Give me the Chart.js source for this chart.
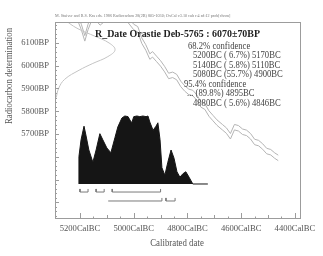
<!DOCTYPE html>
<html>
<head>
<meta charset="utf-8">
<script src="https://cdn.jsdelivr.net/npm/chart.js@4.4.1/dist/chart.umd.min.js"></script>
<style>
  html, body { margin: 0; padding: 0; background: #fff; }
  #chart { display: block; }
</style>
</head>
<body>
<canvas id="chart" width="323" height="256"></canvas>
<script>
// Calibration curve: cal BC year -> radiocarbon age (BP), centre of the band
const curveYears = [5240, 5210, 5195, 5182, 5170, 5155, 5140, 5125, 5110, 5095, 5070, 5040, 5020, 5000, 4985, 4970,
  4955, 4940, 4930, 4915, 4900, 4885, 4870, 4855, 4840, 4825, 4810, 4795, 4780, 4765, 4750, 4735, 4720, 4705,
  4690, 4670, 4655, 4640, 4625, 4610, 4595, 4580, 4565, 4550, 4535, 4520, 4505, 4490, 4475, 4462];
const curveBP = [6260, 6215, 6170, 6120, 6170, 6215, 6210, 6190, 6205, 6240, 6250, 6220, 6200, 6170, 6160, 6110,
  6080, 6040, 6050, 6030, 6010, 5985, 5955, 5960, 5950, 5920, 5900, 5885, 5880, 5860, 5830, 5820, 5790, 5770,
  5750, 5730, 5715, 5690, 5730, 5725, 5710, 5705, 5690, 5665, 5660, 5645, 5625, 5620, 5605, 5595];
const curveErr = 12;

// Measurement 6070±70 BP, relative density along the BP axis
const gaussBP = [5860, 5900, 5940, 5980, 6010, 6040, 6070, 6100, 6130, 6160, 6190, 6220];
const gaussDensity = [0.02, 0.06, 0.16, 0.40, 0.63, 0.88, 1.0, 0.90, 0.66, 0.40, 0.22, 0.10];

// Calibrated probability (cal BC year, relative probability)
const probYears = [5204, 5204, 5196, 5185, 5178, 5167, 5152, 5140, 5126, 5115, 5100, 5085, 5070, 5059, 5044, 5033,
  5021, 5014, 5007, 5000, 4988, 4977, 4966, 4954, 4947, 4940, 4928, 4917, 4910, 4902, 4895, 4884, 4873, 4861,
  4850, 4839, 4828, 4817, 4806, 4794, 4780, 4724];
const probValues = [0, 0.40, 0.65, 0.85, 0.72, 0.50, 0.32, 0.50, 0.74, 0.65, 0.53, 0.46, 0.68, 0.84, 0.97, 1.00,
  0.99, 0.94, 0.90, 0.99, 1.00, 0.99, 1.00, 0.99, 1.00, 0.91, 0.79, 0.85, 0.90, 0.65, 0.24, 0.13, 0.32, 0.50,
  0.38, 0.18, 0.10, 0.15, 0.18, 0.10, 0, 0];

// Highest probability ranges
const sigma1From = [5200, 5140, 5080];
const sigma1To = [5170, 5110, 4900];
const sigma2From = [5095, 4880];
const sigma2To = [4895, 4846];

const xTicks = [5200, 5000, 4800, 4600, 4400];
const yTicks = [5700, 5800, 5900, 6000, 6100];

const header = 'M. Stuiver and R.S. Kra eds. 1986 Radiocarbon 28(2B) 805-1030; OxCal v3.10 cub r:4 sd:12 prob[chron]';
const title = 'R_Date Orastie Deb-5765 : 6070\u00b170BP';
const confidenceLines = [
  '68.2% confidence',
  '5200BC ( 6.7%) 5170BC',
  '5140BC ( 5.8%) 5110BC',
  '5080BC (55.7%) 4900BC',
  '95.4% confidence',
  '... (89.8%) 4895BC',
  '4880BC ( 5.6%) 4846BC'
];

const SERIF = "'Liberation Serif', 'DejaVu Serif', serif";

// bracket shape for a range bar: small upturned ends
function bracket(from, to, level, leftEnd) {
  const pts = [];
  if (leftEnd) pts.push({ x: from, y: level + 0.045 });
  pts.push({ x: from, y: level }, { x: to, y: level }, { x: to, y: level + 0.045 });
  return {
    data: pts, xAxisID: 'x', yAxisID: 'p', borderColor: '#7a7a7a', borderWidth: 1,
    pointRadius: 0, fill: false, tension: 0
  };
}

const datasets = [
  {
    data: gaussBP.map((b, i) => ({ x: gaussDensity[i], y: b })),
    xAxisID: 'g', yAxisID: 'y', borderColor: '#c4c4c4', borderWidth: 1,
    pointRadius: 0, fill: false, tension: 0.4
  },
  {
    data: curveYears.map((yr, i) => ({ x: yr, y: curveBP[i] + curveErr })),
    xAxisID: 'x', yAxisID: 'y', borderColor: '#b4b4b4', borderWidth: 1,
    pointRadius: 0, fill: false, tension: 0
  },
  {
    data: curveYears.map((yr, i) => ({ x: yr, y: curveBP[i] - curveErr })),
    xAxisID: 'x', yAxisID: 'y', borderColor: '#b4b4b4', borderWidth: 1,
    pointRadius: 0, fill: false, tension: 0
  },
  {
    data: probYears.map((yr, i) => ({ x: yr, y: probValues[i] })),
    xAxisID: 'x', yAxisID: 'p', borderColor: '#151515', backgroundColor: '#151515', borderWidth: 1,
    pointRadius: 0, fill: 'origin', tension: 0
  }
];
sigma1From.forEach((f, i) => datasets.push(bracket(f, sigma1To[i], -0.118, true)));
sigma2From.forEach((f, i) => datasets.push(bracket(f, sigma2To[i], -0.25, i > 0)));

function drawText(ctx, str, x, y, font, color, align, sx) {
  ctx.save();
  ctx.font = font;
  ctx.fillStyle = color;
  ctx.textAlign = align;
  ctx.textBaseline = 'alphabetic';
  ctx.translate(x, y);
  ctx.scale(sx, 1);
  ctx.fillText(str, 0, 0);
  ctx.restore();
}

const decorations = {
  id: 'decorations',
  afterDraw(chart) {
    const { ctx, chartArea: a } = chart;
    const xs = chart.scales.x, ys = chart.scales.y;
    ctx.save();
    ctx.strokeStyle = '#9c9c9c';
    ctx.lineWidth = 1;
    ctx.strokeRect(Math.round(a.left) + 0.5, Math.round(a.top) + 0.5,
      Math.round(a.right - a.left), Math.round(a.bottom - a.top));

    // inward ticks
    ctx.beginPath();
    for (let v = 4400; v <= 5200; v += 50) {
      const px = Math.round(xs.getPixelForValue(v)) + 0.5;
      const len = v % 200 === 0 ? 5 : (v % 100 === 0 ? 3 : 1.5);
      ctx.moveTo(px, a.bottom);
      ctx.lineTo(px, a.bottom - len);
    }
    for (let v = 5340; v <= 6180; v += 20) {
      const py = Math.round(ys.getPixelForValue(v)) + 0.5;
      const len = v % 100 === 0 ? 4 : 2;
      ctx.moveTo(a.left, py);
      ctx.lineTo(a.left + len, py);
    }
    ctx.stroke();
    ctx.restore();

    drawText(ctx, header, 55, 17, '4.6px ' + SERIF, '#777', 'left', 0.9);
    drawText(ctx, title, 95, 37, 'bold 11.3px ' + SERIF, '#222', 'left', 0.88);
    const lineX = [188, 193, 193, 193, 184, 187, 193];
    confidenceLines.forEach((s, i) => {
      drawText(ctx, s, lineX[i], 48.5 + i * 9.5, '9.8px ' + SERIF, '#444', 'left', 0.88);
    });
    drawText(ctx, 'Calibrated date', 177, 246, '9.8px ' + SERIF, '#555', 'center', 0.9);
    ctx.save();
    ctx.translate(12, 76);
    ctx.rotate(-Math.PI / 2);
    drawText(ctx, 'Radiocarbon determination', 0, 0, '9.8px ' + SERIF, '#555', 'center', 0.9);
    ctx.restore();
  }
};

new Chart(document.getElementById('chart'), {
  type: 'line',
  data: { datasets },
  options: {
    responsive: false,
    animation: false,
    devicePixelRatio: 1,
    layout: { padding: { top: 22, right: 23, left: 0, bottom: 0 } },
    plugins: { legend: { display: false }, tooltip: { enabled: false } },
    scales: {
      x: {
        type: 'linear', reverse: true, min: 4381, max: 5293, position: 'bottom',
        grid: { display: false, drawTicks: false }, border: { display: false },
        afterBuildTicks: s => { s.ticks = xTicks.map(v => ({ value: v })); },
        afterFit: s => { s.height = 38; },
        ticks: {
          callback: v => v + 'CalBC', autoSkip: false, maxRotation: 0, padding: 6,
          color: '#555', font: { family: SERIF, size: 8.6 }
        }
      },
      y: {
        type: 'linear', min: 5331, max: 6192, position: 'left',
        grid: { display: false, drawTicks: false }, border: { display: false },
        afterBuildTicks: s => { s.ticks = yTicks.map(v => ({ value: v })); },
        afterFit: s => { s.width = 55; },
        ticks: {
          callback: v => v + 'BP', padding: 6,
          color: '#555', font: { family: SERIF, size: 8.6 }
        }
      },
      p: { type: 'linear', axis: 'y', position: 'left', display: false, min: -0.5, max: 2.382 },
      g: { type: 'linear', axis: 'x', position: 'bottom', display: false, min: 0, max: 4.08 }
    }
  },
  plugins: [decorations]
});
</script>
</body>
</html>
